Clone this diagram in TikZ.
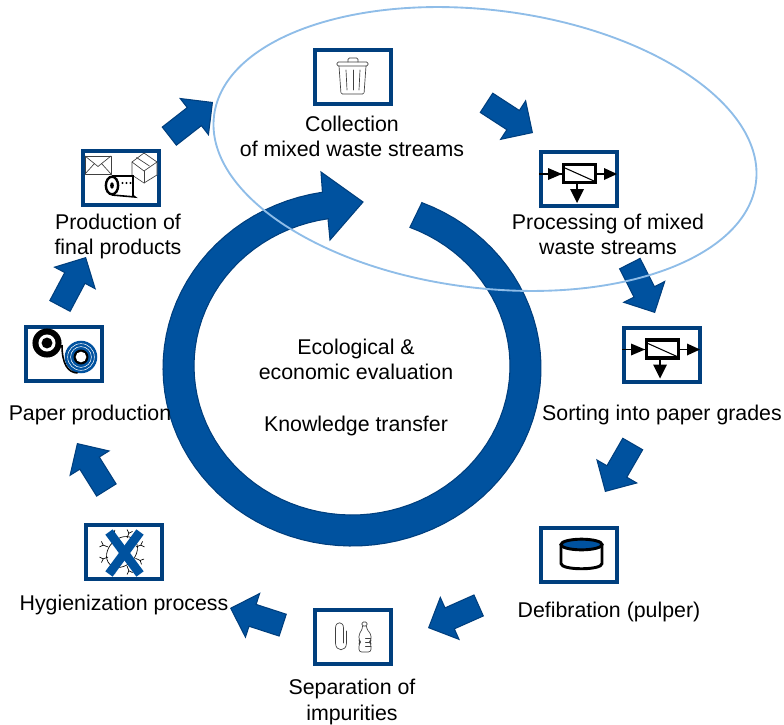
\documentclass[tikz,border=0pt]{standalone}
\usepackage{fontspec}
\setmainfont{Liberation Sans}
\usetikzlibrary{shapes.geometric,shapes.arrows}
\definecolor{mainblue}{HTML}{00529F}
\definecolor{darkblue}{HTML}{003F7E}
\definecolor{lightblue}{HTML}{8FBDE8}
\tikzset{
  iconbox/.style={draw=darkblue,line width=3pt,fill=white,minimum width=57pt,minimum height=40.5pt,inner sep=0pt},
  steplabel/.style={align=center,inner sep=0pt,font=\fontsize{16}{18.8}\selectfont},
  blockarrow/.style={single arrow,draw=darkblue,line width=0.8pt,fill=mainblue,anchor=tip,inner xsep=0pt,inner ysep=8.2pt,
    single arrow head extend=8.6pt,single arrow tip angle=90,minimum height=41pt,minimum width=0pt},
  thinicon/.style={draw=black!75,line width=0.5pt,line join=round,line cap=round},
  processicon/.pic={
    \draw [black,line width=2.6pt] (-15.5,-14.5) rectangle (16.5,3.5);
    \draw [black,line width=0.8pt] (-14,-11) -- (15,2);
    \draw [black,line width=0.8pt] (-40,-5) -- (-17,-5);
    \fill [black] (-31,-11) -- (-31,1) -- (-17,-5) -- cycle;
    \draw [black,line width=0.8pt] (18,-5) -- (25,-5);
    \fill [black] (25,-11) -- (25,1) -- (38,-5) -- cycle;
    \draw [black,line width=0.8pt] (-2,5) -- (-2,10);
    \fill [black] (-9,10) -- (5,10) -- (-2,24) -- cycle;
  }
}
\begin{document}
\begin{tikzpicture}[x=0.75pt,y=-0.75pt]
  \useasboundingbox (0,0) rectangle (784,724);
  % big ring with its head
  \draw [darkblue,line width=0.8pt,fill=mainblue,line join=miter]
    plot [domain=-68.3:261,samples=90] ({352+189*cos(\x)},{368+178*sin(\x)})
    -- (321,172) -- (363,202) -- (330,240) -- (328,219)
    -- plot [domain=261.3:-68.5,samples=90] ({352+158*cos(\x)},{366+149*sin(\x)}) -- cycle;
  % block arrows between the steps
  \node [blockarrow,rotate=38] (arrowone) at (213,102) {};
  \node [blockarrow,rotate=-33] (arrowtwo) at (533,133) {};
  \node [blockarrow,rotate=-63] (arrowthree) at (655,313) {};
  \node [blockarrow,rotate=-120] (arrowfour) at (605,492) {};
  \node [blockarrow,rotate=204] (arrowfive) at (428,628) {};
  \node [blockarrow,rotate=162] (arrowsix) at (230,608) {};
  \node [blockarrow,rotate=122] (arrowseven) at (77,443) {};
  \node [blockarrow,rotate=62] (arroweight) at (86,257) {};
  % icon frames
  \node [iconbox] (framecollect) at (353,77) {};
  \node [iconbox] (frameprocess) at (579,179) {};
  \node [iconbox] (framesort) at (662,354.5) {};
  \node [iconbox] (framedefib) at (579,554.5) {};
  \node [iconbox] (frameseparate) at (352.5,637) {};
  \node [iconbox] (framehygiene) at (123.5,551.5) {};
  \node [iconbox] (framepaper) at (63.5,353.5) {};
  \node [iconbox] (frameproduct) at (120.5,177.5) {};
  % bin
  \begin{scope}[shift={(framecollect.center)}]
    \draw [thinicon,rounded corners=1pt] (-16,-15) rectangle (15,-11);
    \draw [thinicon,rounded corners=1pt] (-5,-15) -- (-5,-19) -- (5,-19) -- (5,-15);
    \draw [thinicon,rounded corners=1pt] (-14,-11) -- (-12,17) -- (11,17) -- (13,-11);
    \draw [thinicon] (-7,-7) -- (-6,13);
    \draw [thinicon] (0,-7) -- (0,13);
    \draw [thinicon] (7,-7) -- (6,13);
  \end{scope}
  \pic at (frameprocess.center) {processicon};
  \pic at (framesort.center) {processicon};
  % pulper
  \begin{scope}[shift={(framedefib.center)}]
    \draw [black,line width=2.2pt,fill=white] (-18,-10) -- (-18,9) .. controls (-18,16) and (23,16) .. (23,9) -- (23,-10);
    \draw [black,line width=2.2pt,fill=mainblue] (2.5,-10) ellipse [x radius=15.4pt,y radius=4pt];
  \end{scope}
  % clip and bottle
  \begin{scope}[shift={(frameseparate.center)}]
    \draw [thinicon] (-9,6) -- (-9,-9) .. controls (-9,-16) and (-17,-16) .. (-17,-9) -- (-17,6) .. controls (-17,15) and (-6,15) .. (-6,6) -- (-6,-6);
    \draw [thinicon,rounded corners=1pt] (9.5,-15) rectangle (14.5,-11);
    \draw [thinicon,rounded corners=2pt] (10,-11) -- (10,-8) -- (6.5,-3) -- (6.5,3) -- (8,5) -- (6.5,7) -- (6.5,15) -- (18.5,15) -- (18.5,7) -- (17,5) -- (18.5,3) -- (18.5,-3) -- (14,-8) -- (14,-11);
    \draw [thinicon] (13,1) -- (18.5,1);
    \draw [thinicon] (13,5) -- (17,5);
    \draw [thinicon] (13,9) -- (18.5,9);
  \end{scope}
  % bacterium under the cross
  \begin{scope}[shift={(framehygiene.center)}]
    \draw [thinicon,black,rotate around={45:(-1.5,0.5)}] (-1.5,0.5) ellipse [x radius=13pt,y radius=10pt];
    \foreach \a in {20,70,115,160,200,245,290,335} {
      \draw [thinicon,black] ({-1.5+15*cos(\a)},{0.5-15*sin(\a)}) -- ({-1.5+20*cos(\a)},{0.5-20*sin(\a)});
      \draw [thinicon,black] ({-1.5+20*cos(\a)+4*cos(\a+45)},{0.5-20*sin(\a)-4*sin(\a+45)}) -- ({-1.5+20*cos(\a)},{0.5-20*sin(\a)}) -- ({-1.5+20*cos(\a)+4*cos(\a-45)},{0.5-20*sin(\a)-4*sin(\a-45)});
    }
    \draw [mainblue,line width=6.75pt] (-14.5,-19.5) -- (16.5,22.5);
    \draw [mainblue,line width=6.75pt] (16.5,-19.5) -- (-14.5,22.5);
  \end{scope}
  % paper rolls
  \begin{scope}[shift={(framepaper.center)}]
    \fill [mainblue] (17.5,3.5) circle [radius=12.2pt];
    \draw [black,line width=1.2pt] (-1.5,-8.5) .. controls (-1.5,10) and (4,19) .. (14,19.5);
    \fill [black] (-16.5,-10.5) circle [radius=10.9pt];
    \fill [white] (-16.5,-10.5) circle [radius=6.4pt];
    \fill [black] (-16.5,-10.5) circle [radius=4.1pt];
    \draw [white,line width=0.4pt] (17.5,3.5) circle [radius=10pt];
    \draw [white,line width=0.4pt] (17.5,3.5) circle [radius=7.8pt];
    \fill [black] (17.5,3.5) circle [radius=5.6pt];
    \fill [white] (17.5,3.5) circle [radius=4pt];
  \end{scope}
  % envelope, box and roll
  \begin{scope}[shift={(frameproduct.center)}]
    \draw [thinicon] (-35.5,-21.5) rectangle (-9.5,-3.5);
    \draw [thinicon] (-35.5,-21.5) -- (-22.5,-11) -- (-9.5,-21.5);
    \draw [thinicon] (-35.5,-3.5) -- (-26,-14);
    \draw [thinicon] (-9.5,-3.5) -- (-19,-14);
    \draw [thinicon,fill=white] (23.5,-24.5) -- (36.5,-15.5) -- (36.5,-2.5) -- (23.5,5.5) -- (11.5,-2.5) -- (11.5,-15.5) -- cycle;
    \draw [thinicon] (11.5,-15.5) -- (23.5,-6.5) -- (36.5,-15.5);
    \draw [thinicon] (23.5,-6.5) -- (23.5,5.5);
    \draw [thinicon] (16,-20) -- (29,-11.5);
    \draw [black,line width=1.2pt,fill=white] (-8.5,-1.5) -- (12.5,-1.5) -- (12.5,18) -- (14.5,19.5) -- (-8.5,17.5);
    \draw [black,line width=1.8pt,fill=white] (-8.5,8) ellipse [x radius=4.6pt,y radius=6.6pt];
    \fill [black] (-8.5,8) ellipse [x radius=1.4pt,y radius=2.4pt];
    \foreach \dotx in {2,6,10} \fill [black] (\dotx,5.5) circle [radius=0.8pt];
  \end{scope}
  % scope of the project
  \node [draw=lightblue,line width=1.4pt,ellipse,inner sep=0pt,minimum width=409.5pt,minimum height=208.5pt,rotate=-7] (scopeellipse) at (485,149) {};
  % labels
  \node [steplabel] (labelcollect) at (352,136.5) {Collection\\of mixed waste streams};
  \node [steplabel] (labelprocess) at (608,234) {Processing of mixed\\waste streams};
  \node [steplabel] (labelsort) at (662,415) {Sorting into paper grades};
  \node [steplabel] (labeldefib) at (609,612) {Defibration (pulper)};
  \node [steplabel] (labelseparate) at (352,702) {Separation of\\impurities};
  \node [steplabel] (labelhygiene) at (124,605) {Hygienization process};
  \node [steplabel] (labelpaper) at (90,415) {Paper production};
  \node [steplabel] (labelproduct) at (118,236.5) {Production of\\final products};
  \node [steplabel] (labelevaluation) at (356,359) {Ecological \&\\economic evaluation};
  \node [steplabel] (labelknowledge) at (356,426) {Knowledge transfer};
\end{tikzpicture}
\end{document}
